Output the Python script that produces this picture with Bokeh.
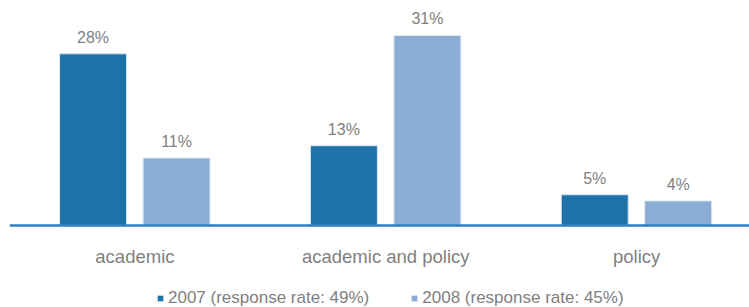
from bokeh.plotting import figure
from bokeh.models import (ColumnDataSource, Range1d, FixedTicker, LabelSet,
                          Legend, LegendItem)
from bokeh.core.properties import value
from bokeh.transform import dodge
from bokeh.embed import file_html
from bokeh.resources import INLINE

categories = ["academic", "academic and policy", "policy"]
series_2007 = [28, 13, 5]
series_2008 = [11, 31, 4]
legend_labels = ["2007 (response rate: 49%)", "2008 (response rate: 45%)"]

C2007 = "#1F72A9"
C2008 = "#8BACD3"
GRAY = "#7F7F7F"
FONT = "Liberation Sans"

idx = list(range(len(categories)))
src = ColumnDataSource(dict(
    x=idx,
    v07=series_2007,
    v08=series_2008,
    t07=[f"{v}%" for v in series_2007],
    t08=[f"{v}%" for v in series_2008],
))

p = figure(width=749, height=307, output_backend="svg", toolbar_location=None,
           x_range=Range1d(-0.5, 2.45), y_range=Range1d(-13.4, 36.7),
           min_border_left=9, min_border_right=0, min_border_top=0,
           min_border_bottom=0)

r07 = p.vbar(x=dodge("x", -0.167, range=p.x_range), top="v07", width=0.267,
             bottom=0, source=src, fill_color=C2007, line_color="#D9E6F2",
             line_width=1)
r08 = p.vbar(x=dodge("x", 0.166, range=p.x_range), top="v08", width=0.267,
             bottom=0, source=src, fill_color=C2008, line_color="#E2EBF5",
             line_width=1)

for col, tcol, off in (("v07", "t07", -0.167), ("v08", "t08", 0.166)):
    p.add_layout(LabelSet(x=dodge("x", off, range=p.x_range), y=col, text=tcol,
                          source=src, text_align="center",
                          text_baseline="bottom", y_offset=8,
                          text_font=value(FONT), text_font_size="16px",
                          text_color=GRAY))

p.yaxis.visible = False
p.xgrid.visible = False
p.ygrid.visible = False
p.outline_line_color = None

ax = p.xaxis[0]
ax.fixed_location = 0
ax.ticker = FixedTicker(ticks=idx)
ax.major_label_overrides = {i: c for i, c in zip(idx, categories)}
ax.axis_line_color = "#2E7EC1"
ax.axis_line_width = 2.5
ax.major_tick_line_color = None
ax.minor_tick_line_color = None
ax.major_label_standoff = 15
ax.major_label_text_font = FONT
ax.major_label_text_font_size = "18.5px"
ax.major_label_text_color = GRAY

legend = Legend(items=[LegendItem(label=legend_labels[0], renderers=[r07]),
                       LegendItem(label=legend_labels[1], renderers=[r08])],
                orientation="horizontal", location=(147, -1),
                glyph_width=8, glyph_height=8, spacing=41,
                label_text_font=FONT, label_text_font_size="17px",
                label_text_color=GRAY, label_standoff=4,
                border_line_color=None, background_fill_alpha=0,
                margin=0, padding=0)
p.add_layout(legend, "center")

open("out.html", "w").write(file_html(p, INLINE))
